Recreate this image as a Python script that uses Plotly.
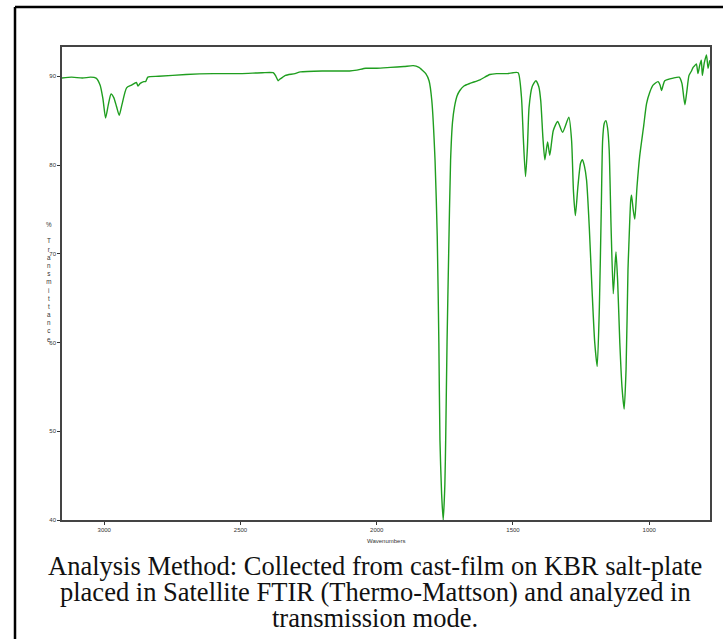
import plotly.graph_objects as go

# Wavenumbers (cm-1) and % transmittance
wavenumbers = [
    3155, 3120, 3080, 3050, 3030, 3015, 3005, 2995, 2985, 2975, 2965, 2955, 2945, 2935,
    2918, 2900, 2882, 2876, 2868, 2855, 2848, 2840, 2800, 2700, 2600, 2500, 2420, 2380,
    2370, 2362, 2355, 2345, 2335, 2300, 2280, 2200, 2100, 2073, 2040, 2000, 1950, 1900,
    1866, 1845, 1835, 1820, 1808, 1798, 1786, 1778, 1772, 1768, 1762, 1756, 1750, 1747,
    1742, 1736, 1729, 1722, 1715, 1705, 1695, 1680, 1658, 1621, 1585, 1560, 1520, 1500,
    1481, 1469, 1462, 1454, 1447, 1441, 1430, 1416, 1405, 1398, 1390, 1383, 1373, 1365,
    1352, 1336, 1318, 1295, 1285, 1278, 1271, 1262, 1252, 1245, 1238, 1230, 1220, 1210,
    1200, 1191, 1183, 1176, 1171, 1165, 1159, 1153, 1147, 1140, 1132, 1126, 1122, 1116,
    1108, 1100, 1092, 1085, 1078, 1075, 1068, 1065, 1059, 1053, 1045, 1035, 1020, 1010,
    998, 986, 968, 960, 955, 949, 943, 912, 890, 880, 874, 869, 862, 854, 845, 839, 833,
    827, 821, 815, 809, 805, 798, 790, 784, 778,
]
transmittance = [
    89.8, 89.9, 89.8, 89.9, 89.8, 89.0, 87.5, 85.3, 86.8, 88.0, 87.6, 86.6, 85.6, 86.8,
    88.7, 89.0, 89.3, 88.9, 89.2, 89.4, 89.4, 89.9, 90.0, 90.2, 90.3, 90.3, 90.4, 90.4,
    90.0, 89.5, 89.7, 89.9, 90.1, 90.3, 90.5, 90.6, 90.6, 90.7, 90.9, 90.9, 91.0, 91.1,
    91.2, 91.0, 90.75, 90.3, 89.5, 87.3, 80.5, 72.0, 60.0, 49.0, 43.0, 40.0, 44.0, 49.0,
    60.0, 70.0, 80.5, 84.8, 86.5, 87.8, 88.4, 88.9, 89.2, 89.6, 90.2, 90.3, 90.3, 90.4,
    90.4, 87.7, 83.0, 78.7, 82.0, 86.5, 88.8, 89.5, 88.8, 87.2, 83.0, 80.6, 82.6, 81.1,
    83.9, 84.9, 83.7, 85.4, 82.8, 77.0, 74.3, 77.5, 80.2, 80.6, 79.9, 78.3, 73.0, 66.0,
    60.0, 57.3, 64.0, 75.0, 82.8, 84.7, 85.0, 84.2, 81.7, 73.0, 65.5, 68.5, 70.2, 67.0,
    60.0, 55.0, 52.5, 57.0, 68.2, 70.8, 76.0, 76.6, 75.0, 73.9, 77.5, 81.0, 84.5, 86.9,
    88.2, 89.0, 89.4, 89.0, 88.4, 89.0, 89.5, 89.8, 89.9, 89.2, 87.8, 86.8, 88.3, 90.1,
    90.6, 91.0, 91.2, 91.4, 90.3, 91.2, 91.8, 90.1, 91.5, 92.4, 90.9, 91.8,
]

x_ticks = [3000, 2500, 2000, 1500, 1000]
y_ticks = [40, 50, 60, 70, 80, 90]
x_label = "Wavenumbers"
y_label_letters = ["%", "", "T", "r", "a", "n", "s", "m", "i", "t", "t", "a", "n", "c", "e"]
caption_lines = [
    "Analysis Method: Collected from cast-film on KBR salt-plate",
    "placed in Satellite FTIR (Thermo-Mattson) and analyzed in",
    "transmission mode.",
]

W, H = 723, 639
L, R, T, B = 62, 13, 47, 119
pw, ph = W - L - R, H - T - B


def px_x(p):
    return (p - L) / pw


def px_y(p):
    return (H - B - p) / ph


fig = go.Figure()
fig.add_trace(go.Scatter(
    x=wavenumbers, y=transmittance, mode="lines",
    line=dict(color="#1f9e1f", width=1.4, shape="spline", smoothing=0.6),
    hoverinfo="skip", showlegend=False,
))

tick_font = dict(family="Liberation Sans, Arial, sans-serif", size=6, color="#333")
fig.update_xaxes(
    range=[3155, 777], tickvals=x_ticks, ticktext=[str(v) for v in x_ticks],
    showgrid=False, zeroline=False, showline=True, linecolor="#444", linewidth=1.5,
    mirror=True, ticks="outside", ticklen=3, tickcolor="#333", tickwidth=1,
    tickfont=tick_font,
)
fig.update_yaxes(
    range=[40, 93.3], tickvals=y_ticks, ticktext=[str(v) for v in y_ticks],
    showgrid=False, zeroline=False, showline=True, linecolor="#444", linewidth=1.5,
    mirror=True, ticks="outside", ticklen=3, tickcolor="#333", tickwidth=1,
    tickfont=tick_font,
)

annotations = [
    dict(text=x_label, x=px_x(386), y=px_y(541), xref="paper", yref="paper",
         showarrow=False, xanchor="center", yanchor="middle",
         font=dict(family="Liberation Sans, Arial, sans-serif", size=6, color="#333")),
    dict(text="<br>".join(c if c else " " for c in y_label_letters),
         x=px_x(49), y=px_y(224) + 0.01, xref="paper", yref="paper",
         showarrow=False, xanchor="center", yanchor="top",
         font=dict(family="Liberation Sans, Arial, sans-serif", size=6.3, color="#333")),
]
for line, yc in zip(caption_lines, [566, 592, 618]):
    annotations.append(dict(
        text=line, x=px_x(375), y=px_y(yc), xref="paper", yref="paper",
        showarrow=False, xanchor="center", yanchor="middle",
        font=dict(family="Liberation Serif, Times New Roman, serif", size=26.5, color="#111"),
    ))

shapes = [
    dict(type="line", xref="paper", yref="paper", x0=px_x(15), x1=px_x(725),
         y0=px_y(7), y1=px_y(7), line=dict(color="black", width=2.5)),
    dict(type="line", xref="paper", yref="paper", x0=px_x(15), x1=px_x(15),
         y0=px_y(7), y1=px_y(642), line=dict(color="black", width=2.5)),
]

fig.update_layout(
    width=W, height=H, margin=dict(l=L, r=R, t=T, b=B, pad=0),
    paper_bgcolor="white", plot_bgcolor="white",
    annotations=annotations, shapes=shapes, showlegend=False,
)
fig.write_html(
    "out.html",
    config={"displayModeBar": False},
    post_script="document.body.style.margin='0';document.body.style.padding='0';"
                "document.documentElement.style.overflow='hidden';",
)
